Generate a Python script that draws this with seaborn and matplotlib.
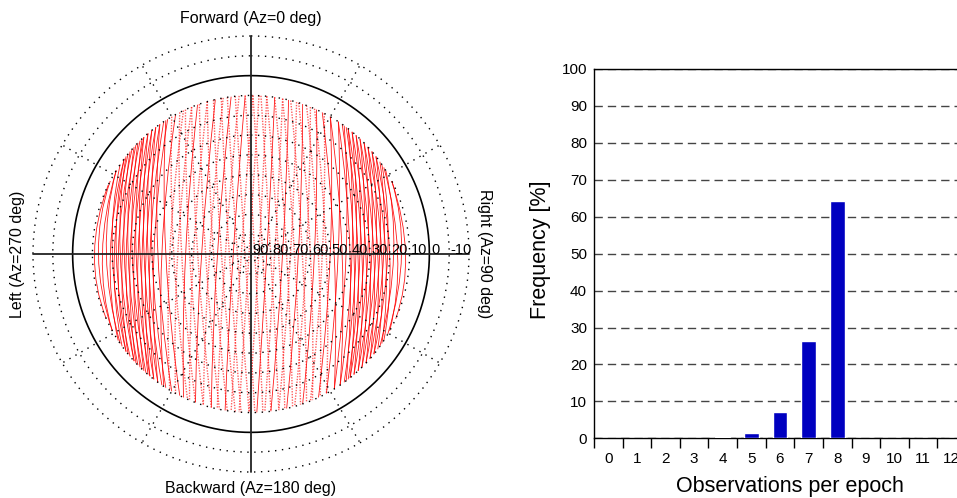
import numpy as np
import pandas as pd
import matplotlib
matplotlib.use("Agg")
import matplotlib.pyplot as plt
from matplotlib.path import Path
from matplotlib.patches import PathPatch
import seaborn as sns

# ---------------- data ----------------
# satellite tracks in the body-fixed skyplot (azimuth deg, elevation deg):
# entry point at the elevation mask, point of widest excursion, exit point at the mask
ELEV_MASK = 10
trk_az_in = [-64.2, -62.6, -58.2, -58.2, -53.1, -55.6, -50.8, -53.1, -48.6, -52.0,
             -46.5, -49.7, -44.4, -47.5, -42.5, -45.5, -40.5, -43.4, -38.7, -42.5,
             -36.9, -40.5, -35.1, -38.7, -33.4, -36.9, -31.7, -35.1, -28.4, -32.5,
             -25.2, -30.0, -22.0, -26.7, -19.7, -24.4, -16.0, -22.0, -13.0, -19.0,
             -10.1, -16.0, -7.2, -13.7, -4.3, -10.8, -2.1, -8.6, 0.7, -5.7, 2.9,
             -2.1, 5.7, 0.7, 8.6, 3.6, 11.5, 5.7, 13.7, 8.6, 16.7,
             11.5, 19.0, 14.5, 22.0, 17.5, 24.4, 20.5, 27.5, 23.6, 30.0,
             26.7, 33.4, 30.0, 36.0, 33.4, 37.8, 35.1, 39.6, 36.9, 41.5,
             37.8, 43.4, 39.6, 45.5, 41.5, 47.5, 43.4, 49.7, 45.5, 52.0,
             47.5, 54.4, 49.7, 55.6, 52.0, 58.2, 56.9, 62.6, 62.6]
trk_az_mid = [270] * 51 + [90] * 49
trk_el_mid = [11, 13, 15, 17, 19, 20, 21, 22, 23, 24,
              25, 26, 27, 28, 29, 30, 31, 32, 33, 34,
              35, 36, 37, 38, 39, 40, 41, 43, 45, 47,
              49, 51, 53, 55, 57, 59, 61, 63, 65, 67,
              69, 71, 73, 75, 77, 79, 81, 83, 85, 87, 89,
              88, 86, 84, 82, 80, 78, 76, 74, 72, 70,
              68, 66, 64, 62, 60, 58, 56, 54, 52, 50,
              48, 46, 44, 42, 40, 39, 38, 37, 36, 35,
              34, 33, 32, 31, 30, 29, 28, 27, 26, 25,
              24, 23, 22, 21, 20, 18, 16, 14, 12]
trk_az_out = [245.9, 241.0, 241.0, 235.6, 236.9, 232.0, 234.4, 229.7, 232.0, 227.5,
              230.8, 225.5, 227.5, 223.4, 226.5, 221.5, 224.4, 219.6, 222.5, 217.8,
              220.5, 216.0, 219.6, 214.2, 217.8, 212.5, 216.0, 210.0, 213.4, 206.7,
              210.8, 203.6, 208.4, 200.5, 205.2, 197.5, 202.8, 194.5, 200.5, 191.5,
              197.5, 188.6, 194.5, 185.7, 192.3, 183.6, 189.4, 180.7, 187.2, 178.6, 184.3,
              175.7, 180.7, 172.8, 177.9, 169.9, 175.0, 167.7, 172.8, 164.8, 169.9,
              161.8, 167.0, 159.5, 164.0, 157.2, 161.0, 154.1, 158.0, 151.6, 154.8,
              148.3, 151.6, 145.8, 148.3, 143.1, 145.8, 141.3, 144.0, 139.5, 142.2,
              137.5, 141.3, 135.6, 139.5, 133.5, 137.5, 131.4, 135.6, 129.2, 133.5,
              126.9, 131.4, 124.4, 129.2, 123.1, 125.6, 119.0, 120.4, 114.1]
trk_solid = [1, 1, 1, 1, 1, 1, 1, 1, 1, 1,
             1, 1, 1, 1, 1, 1, 1, 1, 1, 1,
             1, 1, 1, 1, 1, 1, 1, 1, 1, 1,
             0, 0, 0, 0, 1, 0, 0, 0, 1, 0,
             0, 0, 1, 0, 0, 0, 1, 0, 0, 0, 0,
             0, 0, 0, 1, 0, 0, 0, 1, 0, 0,
             0, 1, 0, 0, 0, 1, 0, 0, 0, 1,
             1, 1, 1, 1, 1, 1, 1, 1, 1, 1,
             1, 1, 1, 1, 1, 1, 1, 1, 1, 1,
             1, 1, 1, 1, 1, 1, 1, 1, 1]

elev_rings = [80, 70, 60, 50, 40, 30, 20, 10, -10, -20]
elev_labels = [90, 80, 70, 60, 50, 40, 30, 20, 10, 0, -10]
az_spokes = [30, 60, 120, 150, 210, 240, 300, 330]
az_axes = [0, 90, 180, 270]

# histogram of observations per epoch
obs_per_epoch = ["0", "1", "2", "3", "4", "5", "6", "7", "8", "9", "10", "11", "12"]
frequency_pct = [0, 0, 0, 0, 0.4, 1.4, 7.2, 26.4, 64.3, 0, 0, 0, 0]

# ---------------- style ----------------
sns.set_theme(style="white")
plt.rcParams["font.family"] = ["Liberation Sans", "DejaVu Sans"]
for k in ["text.color", "axes.labelcolor", "xtick.color", "ytick.color"]:
    plt.rcParams[k] = "black"

W, H = 957, 498
fig = plt.figure(figsize=(W / 100, H / 100), dpi=100)

# ---------------- skyplot ----------------
ax = fig.add_axes([31 / W, 24 / H, 440 / W, 440 / H], projection="polar")
ax.set_theta_zero_location("N")
ax.set_theta_direction(-1)
ax.set_ylim(0, 111)
ax.spines["polar"].set_visible(False)
ax.set_facecolor("white")


def zen(el):
    return 90 - np.asarray(el, dtype=float)


def smooth_track(az_deg, el_deg):
    """Quadratic Bezier (drawn by matplotlib) through entry, widest point and exit."""
    th = np.deg2rad(az_deg)
    rr = zen(el_deg)
    px, py = rr * np.sin(th), rr * np.cos(th)
    cx = 2 * px[1] - 0.5 * (px[0] + px[2])
    cy = 2 * py[1] - 0.5 * (py[0] + py[2])
    th_c = np.arctan2(cx, cy)
    r_c = np.hypot(cx, cy)
    verts = [(th[0], rr[0]), (th_c, r_c), (th[2], rr[2])]
    return Path(verts, [Path.MOVETO, Path.CURVE3, Path.CURVE3])


for a_in, a_mid, e_mid, a_out, solid in zip(trk_az_in, trk_az_mid, trk_el_mid, trk_az_out, trk_solid):
    path = smooth_track([a_in, a_mid, a_out], [ELEV_MASK, e_mid, ELEV_MASK])
    if solid:
        patch = PathPatch(path, fill=False, edgecolor="#ff0000", lw=0.6, alpha=0.9, zorder=2)
    else:
        patch = PathPatch(path, fill=False, edgecolor="#ff1a1a", lw=1.0, ls=(0, (1, 1)),
                          alpha=0.7, zorder=2)
    ax.add_patch(patch)

ax.set_rgrids(zen(elev_rings), labels=[""] * len(elev_rings))
ax.set_thetagrids(az_spokes, labels=[""] * len(az_spokes))
ax.grid(True, color="black", ls=(0, (1, 4)), lw=1.0)
ax.set_axisbelow(False)
ax.tick_params(length=0)
ax.set_ylim(0, 111)

circ = np.linspace(0, 2 * np.pi, 721)
ax.plot(circ, np.full_like(circ, zen(0)), color="black", lw=1.2, zorder=4)
for a in az_axes:
    ax.plot([np.deg2rad(a)] * 2, [0, zen(-20)], color="#222222", lw=1.3, zorder=4)

for el in elev_labels:
    ax.text(np.deg2rad(90), zen(el) + 0.8, str(el), ha="left", va="baseline",
            fontsize=10.5, color="black", zorder=5)

fig.text(251 / W, 1 - 18 / H, "Forward (Az=0 deg)", ha="center", va="center", fontsize=11.5)
fig.text(251 / W, 1 - 488 / H, "Backward (Az=180 deg)", ha="center", va="center", fontsize=11.5)
fig.text(18 / W, 1 - 254 / H, "Left (Az=270 deg)", ha="center", va="center", fontsize=11.5, rotation=90)
fig.text(484 / W, 1 - 254 / H, "Right (Az=90 deg)", ha="center", va="center", fontsize=11.5, rotation=270)

# ---------------- histogram ----------------
ax2 = fig.add_axes([594 / W, 1 - 438.3 / H, (966 - 594) / W, (438.3 - 69) / H])
df = pd.DataFrame({"obs": obs_per_epoch, "freq": frequency_pct})
sns.barplot(data=df, x="obs", y="freq", order=obs_per_epoch, color="#0000c0",
            saturation=1, width=0.52, ax=ax2, zorder=3)
ax2.set_xlim(-0.5, 12.5)
ax2.set_ylim(0, 100)
ax2.set_yticks(range(0, 101, 10))
ax2.set_xticks(range(len(obs_per_epoch)))
ax2.set_xticklabels(obs_per_epoch)
ax2.set_xticks(np.arange(-0.5, 12.6, 1), minor=True)
ax2.tick_params(axis="x", which="major", length=0, pad=10, labelsize=11)
ax2.tick_params(axis="x", which="minor", length=7, width=1, direction="out", color="black", bottom=True)
ax2.tick_params(axis="y", length=0, pad=5, labelsize=11)
ax2.yaxis.grid(True, ls=(0, (6, 3.6)), color="#444444", lw=1.0)
ax2.set_axisbelow(True)
for s in ["left", "bottom", "top"]:
    ax2.spines[s].set_visible(True)
    ax2.spines[s].set_color("black")
    ax2.spines[s].set_linewidth(1.0)
    ax2.spines[s].set_zorder(2.6)
ax2.spines["right"].set_visible(False)

ax2.set_xlabel("Observations per epoch", fontsize=15.5)
ax2.set_ylabel("Frequency [%]", fontsize=15.5)
ax2.xaxis.set_label_coords(0.528, -0.131)
ax2.xaxis.label.set_va("center")
ax2.yaxis.set_label_coords(-0.145, 0.51)
ax2.yaxis.label.set_va("center")

fig.savefig("out.png", dpi=100, facecolor="white")
